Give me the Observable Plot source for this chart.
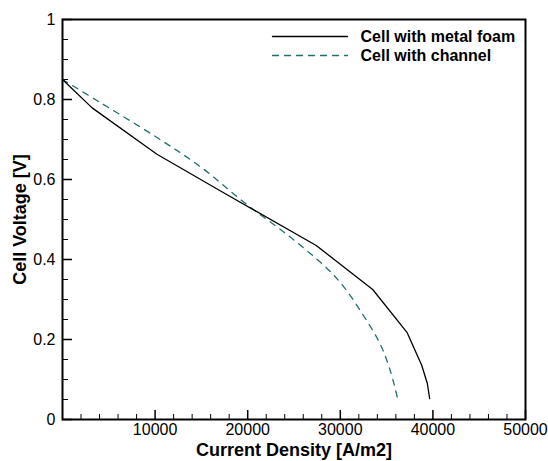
<!DOCTYPE html>
<html><head><meta charset="utf-8">
<script src="https://cdn.jsdelivr.net/npm/d3@7"></script>
<script src="https://cdn.jsdelivr.net/npm/@observablehq/plot@0.6"></script>
<style>body{margin:0;background:#fff}</style>
</head><body><div id="chart"></div>
<script>
const foamX = [0, 3200, 10200, 17400, 27400, 33500, 37200, 38800, 39400, 39650];
const foamY = [0.85, 0.779, 0.663, 0.567, 0.435, 0.325, 0.218, 0.135, 0.09, 0.052];
const channelX = [0, 3750, 10200, 15000, 19600, 24600, 28600, 30400, 32500, 34300, 35400, 36150];
const channelY = [0.85, 0.797, 0.705, 0.63, 0.543, 0.456, 0.377, 0.331, 0.26, 0.189, 0.122, 0.056];
const seriesNames = ["Cell with metal foam", "Cell with channel"];
const xLabels = [10000, 20000, 30000, 40000, 50000];
const yLabels = [0, 0.2, 0.4, 0.6, 0.8, 1];
const xMinor = [2000,4000,6000,8000,12000,14000,16000,18000,22000,24000,26000,28000,32000,34000,36000,38000,42000,44000,46000,48000];
const yMinor = [0.05,0.1,0.15,0.25,0.3,0.35,0.45,0.5,0.55,0.65,0.7,0.75,0.85,0.9,0.95];
const xTitle = "Current Density [A/m2]";
const yTitle = "Cell Voltage [V]";

const foam = foamX.map((x, i) => ({x, y: foamY[i]}));
const channel = channelX.map((x, i) => ({x, y: channelY[i]}));
const seg = {draw(ctx, l) { ctx.moveTo(0, 0); ctx.lineTo(0, -l); }};
const teal = "#236f6f";

const chart = Plot.plot({
  width: 548, height: 461,
  marginLeft: 62, marginRight: 23, marginTop: 19, marginBottom: 42,
  x: {domain: [0, 50000]},
  y: {domain: [0, 1]},
  style: {fontFamily: "'Liberation Sans', Arial, sans-serif", background: "white", color: "black"},
  marks: [
    Plot.axisX({ticks: xLabels, tickSize: 0, tickPadding: 4, fontSize: 16, label: null, tickFormat: d => String(d)}),
    Plot.axisY({ticks: yLabels, tickSize: 0, tickPadding: 7, fontSize: 16, label: null, tickFormat: d => String(d)}),
    Plot.tickX(xMinor, {x: d => d, insetTop: 395, stroke: "black", strokeWidth: 1}),
    Plot.tickX(xLabels, {x: d => d, insetTop: 391, stroke: "black", strokeWidth: 1.5}),
    Plot.tickY(yMinor, {y: d => d, insetRight: 457, stroke: "black", strokeWidth: 1}),
    Plot.tickY(yLabels, {y: d => d, insetRight: 453, stroke: "black", strokeWidth: 1.5}),
    Plot.line(channel, {x: "x", y: "y", stroke: teal, strokeWidth: 1.3, strokeDasharray: "6,6", curve: "catmull-rom"}),
    Plot.line(foam, {x: "x", y: "y", stroke: "black", strokeWidth: 1.3}),
    Plot.frame({stroke: "black", strokeWidth: 2}),
    Plot.vector([seriesNames[0]], {frameAnchor: "top-left", dx: 210, dy: 17, rotate: 90, length: 75, anchor: "start", shape: seg, stroke: "black", strokeWidth: 1.3}),
    Plot.vector([seriesNames[1]], {frameAnchor: "top-left", dx: 210, dy: 36, rotate: 90, length: 75, anchor: "start", shape: seg, stroke: teal, strokeWidth: 1.3, strokeDasharray: "6,6"}),
    Plot.text([seriesNames[0]], {text: d => d, frameAnchor: "top-left", dx: 298, dy: 17, textAnchor: "start", lineAnchor: "middle", fontWeight: "bold", fontSize: 16}),
    Plot.text([seriesNames[1]], {text: d => d, frameAnchor: "top-left", dx: 298, dy: 36, textAnchor: "start", lineAnchor: "middle", fontWeight: "bold", fontSize: 16}),
    Plot.text([xTitle], {text: d => d, frameAnchor: "bottom", dy: 31, textAnchor: "middle", lineAnchor: "middle", fontWeight: "bold", fontSize: 18}),
    Plot.text([yTitle], {text: d => d, frameAnchor: "left", dx: -42, rotate: -90, textAnchor: "middle", lineAnchor: "middle", fontWeight: "bold", fontSize: 18}),
  ]
});
document.getElementById("chart").appendChild(chart);
</script></body></html>
